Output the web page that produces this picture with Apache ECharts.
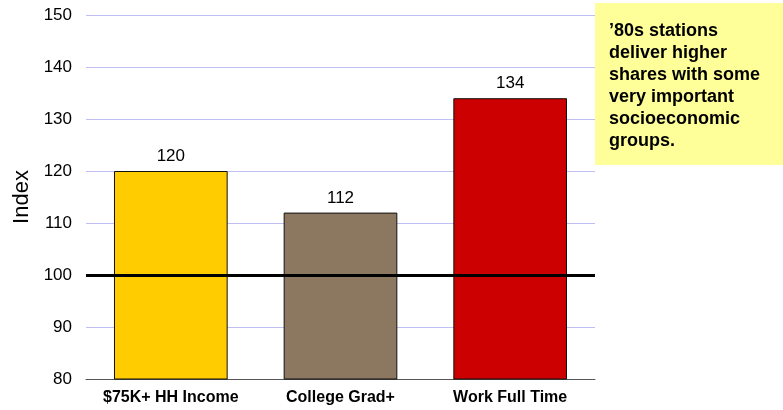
<!DOCTYPE html>
<html>
<head>
<meta charset="utf-8">
<script src="https://cdn.jsdelivr.net/npm/echarts@6/dist/echarts.min.js"></script>
<style>
  html, body { margin: 0; padding: 0; background: #fff; }
  #chart { width: 783px; height: 410px; }
</style>
</head>
<body>
<div id="chart"></div>
<script>
var categories = ['$75K+ HH Income', 'College Grad+', 'Work Full Time'];
var values = [120, 112, 134];
var barColors = ['#FFCC00', '#8C7860', '#CC0000'];
var baseline = 100;
var note = "\u201980s stations\ndeliver higher\nshares with some\nvery important\nsocioeconomic\ngroups.";

var myChart = echarts.init(document.getElementById('chart'));
var font = 'Liberation Sans, Arial, Helvetica, sans-serif';

myChart.setOption({
  animation: false,
  grid: { left: 86, right: 188, top: 15, bottom: 31 },
  xAxis: {
    type: 'category',
    data: categories,
    axisTick: { show: false },
    axisLine: { lineStyle: { color: '#555', width: 1 } },
    axisLabel: { interval: 0, hideOverlap: false, color: '#000', fontFamily: font, fontWeight: 'bold', fontSize: 16, margin: 11 }
  },
  yAxis: {
    type: 'value',
    min: 80,
    max: 150,
    interval: 10,
    name: 'Index',
    nameLocation: 'middle',
    nameGap: 53,
    nameTextStyle: { color: '#000', fontFamily: font, fontSize: 22 },
    axisLine: { show: false },
    axisTick: { show: false },
    axisLabel: { color: '#000', fontFamily: font, fontSize: 17, margin: 14 },
    splitLine: { lineStyle: { color: '#BFBFF5', width: 1 } }
  },
  series: [{
    type: 'bar',
    barWidth: '67%',
    data: values.map(function (v, i) {
      return { value: v, itemStyle: { color: barColors[i] } };
    }),
    itemStyle: { borderColor: '#111', borderWidth: 1 },
    label: { show: true, position: 'top', color: '#000', fontFamily: font, fontSize: 17, distance: 6 },
    markLine: {
      silent: true,
      symbol: 'none',
      label: { show: false },
      lineStyle: { color: '#000', width: 3, type: 'solid' },
      data: [{ yAxis: baseline }]
    }
  }],
  graphic: [{
    type: 'group',
    left: 595,
    top: 3,
    children: [{
      type: 'rect',
      shape: { x: 0, y: 0, width: 188, height: 162 },
      style: { fill: '#FFFF99' }
    }, {
      type: 'text',
      x: 14,
      y: 17,
      style: {
        text: note,
        fill: '#000',
        font: 'bold 18px ' + font,
        lineHeight: 22
      }
    }]
  }]
});
</script>
</body>
</html>
